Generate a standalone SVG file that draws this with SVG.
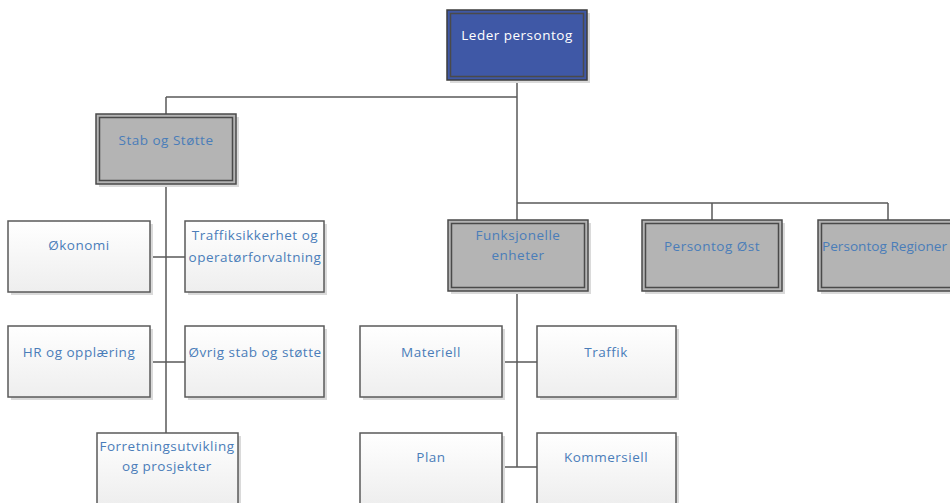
<svg xmlns="http://www.w3.org/2000/svg" width="950" height="503" viewBox="0 0 950 503">
<style>
.t{font-family:"Open Sans","Liberation Sans",sans-serif;font-size:13.5px;letter-spacing:0.5px;fill:#4a7db9;text-anchor:middle}
.tw{font-family:"Open Sans","Liberation Sans",sans-serif;font-size:13.5px;letter-spacing:0.5px;fill:#ffffff;text-anchor:middle}
.sh{fill:#dadada}
.wb{fill:url(#wg);stroke:#5a5a5a;stroke-width:1.5}
.go{fill:#b4b4b4;stroke:#4a4a4a;stroke-width:1.5}
.gi{fill:none;stroke:#4a4a4a;stroke-width:1.5}
.bo{fill:#3f58a6;stroke:#3c3c3c;stroke-width:1.5}
.c{fill:none;stroke:#5a5a5a;stroke-width:1.5}
</style>
<defs>
<linearGradient id="wg" x1="0" y1="0" x2="0" y2="1">
<stop offset="0" stop-color="#ffffff"/>
<stop offset="1" stop-color="#eeeeee"/>
</linearGradient>
</defs>
<rect width="950" height="503" fill="#ffffff"/>
<g id="connectors">
<path class="c" d="M517,80V220M166,97H517M166,97V114M517,203H888M712,203V220M888,203V220"/>
<path class="c" d="M166,184V433M150,257H185M150,362H185"/>
<path class="c" d="M517,292V467M502,362H537M502,467H537"/>
</g>
<g id="leder">
<rect class="sh" x="450" y="13" width="140" height="70"/>
<rect class="bo" x="447" y="10" width="140" height="70"/>
<rect class="gi" x="450.5" y="13.5" width="133" height="63" stroke="#333"/>
<text class="tw" x="517" y="40">Leder persontog</text>
</g>
<g id="stab">
<rect class="sh" x="99" y="117" width="140" height="70"/>
<rect class="go" x="96" y="114" width="140" height="70"/>
<rect class="gi" x="99.5" y="117.5" width="133" height="63"/>
<text class="t" x="166" y="145">Stab og Støtte</text>
</g>
<g id="funksjonelle">
<rect class="sh" x="451" y="223" width="140" height="71"/>
<rect class="go" x="448" y="220" width="140" height="71"/>
<rect class="gi" x="451.5" y="223.5" width="133" height="64"/>
<text class="t" x="518" y="240">Funksjonelle</text>
<text class="t" x="518" y="260">enheter</text>
</g>
<g id="ost">
<rect class="sh" x="645" y="223" width="140" height="71"/>
<rect class="go" x="642" y="220" width="140" height="71"/>
<rect class="gi" x="645.5" y="223.5" width="133" height="64"/>
<text class="t" x="712" y="251">Persontog Øst</text>
</g>
<g id="regioner">
<rect class="sh" x="821" y="223" width="140" height="71"/>
<rect class="go" x="818" y="220" width="140" height="71"/>
<rect class="gi" x="821.5" y="223.5" width="133" height="64"/>
<text class="t" x="822" y="251" style="text-anchor:start;letter-spacing:0" textLength="125" lengthAdjust="spacingAndGlyphs">Persontog Regioner</text>
</g>
<g id="okonomi">
<rect class="sh" x="11" y="224" width="142" height="71"/>
<rect class="wb" x="8" y="221" width="142" height="71"/>
<text class="t" x="79" y="250">Økonomi</text>
</g>
<g id="trafikksikkerhet">
<rect class="sh" x="188" y="224" width="139" height="71"/>
<rect class="wb" x="185" y="221" width="139" height="71"/>
<text class="t" x="255" y="240">Traffiksikkerhet og</text>
<text class="t" x="255" y="262">operatørforvaltning</text>
</g>
<g id="hr">
<rect class="sh" x="11" y="329" width="142" height="71"/>
<rect class="wb" x="8" y="326" width="142" height="71"/>
<text class="t" x="79" y="357">HR og opplæring</text>
</g>
<g id="ovrig">
<rect class="sh" x="188" y="329" width="139" height="71"/>
<rect class="wb" x="185" y="326" width="139" height="71"/>
<text class="t" x="255" y="357">Øvrig stab og støtte</text>
</g>
<g id="forretning">
<rect class="sh" x="100" y="436" width="141" height="71"/>
<rect class="wb" x="97" y="433" width="141" height="71"/>
<text class="t" x="167" y="451">Forretningsutvikling</text>
<text class="t" x="167" y="471">og prosjekter</text>
</g>
<g id="materiell">
<rect class="sh" x="363" y="329" width="142" height="71"/>
<rect class="wb" x="360" y="326" width="142" height="71"/>
<text class="t" x="431" y="357">Materiell</text>
</g>
<g id="traffik">
<rect class="sh" x="540" y="329" width="139" height="71"/>
<rect class="wb" x="537" y="326" width="139" height="71"/>
<text class="t" x="606" y="357">Traffik</text>
</g>
<g id="plan">
<rect class="sh" x="363" y="436" width="142" height="71"/>
<rect class="wb" x="360" y="433" width="142" height="71"/>
<text class="t" x="431" y="462">Plan</text>
</g>
<g id="kommersiell">
<rect class="sh" x="540" y="436" width="139" height="71"/>
<rect class="wb" x="537" y="433" width="139" height="71"/>
<text class="t" x="606" y="462">Kommersiell</text>
</g>
</svg>
